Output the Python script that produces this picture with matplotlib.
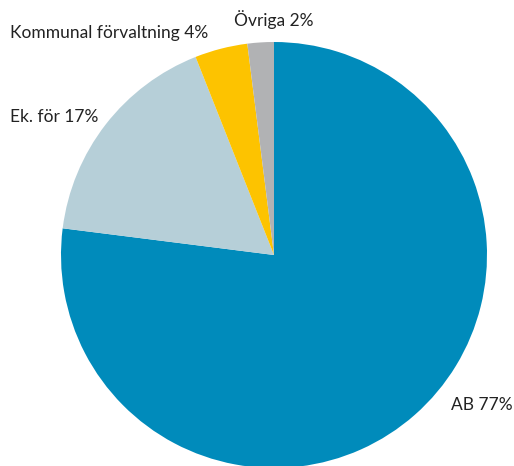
import matplotlib.pyplot as plt

# Fördelning per organisationsform
kategorier = ["AB", "Ek. för", "Kommunal förvaltning", "Övriga"]
andelar = [77, 17, 4, 2]
farger = ["#008bbb", "#b6cfd8", "#fdc300", "#b1b2b4"]

plt.rcParams["font.family"] = ["Lato", "DejaVu Sans"]

fig = plt.figure(figsize=(5.14, 4.66), dpi=100)
# cirkelns mitt ca (274, 255) px, radie ca 213 px
ax = fig.add_axes([61 / 514, -2 / 466, 426 / 514, 426 / 466])
ax.pie(andelar, colors=farger, startangle=90, counterclock=False,
       wedgeprops={"linewidth": 0})
ax.set_xlim(-1, 1)
ax.set_ylim(-1, 1)
ax.set_aspect("equal")
ax.axis("off")

# etiketternas placering i figurpixlar (vänsterkant, mitt i höjd)
etikettpos = [(451, 405), (10, 117), (10, 33), (234, 20)]
for namn, v, (x, y) in zip(kategorier, andelar, etikettpos):
    fig.text(x / 514, 1 - y / 466, f"{namn} {v}%", ha="left", va="center",
             fontsize=12.5, color="#222222")

fig.savefig("out.png", dpi=100)
